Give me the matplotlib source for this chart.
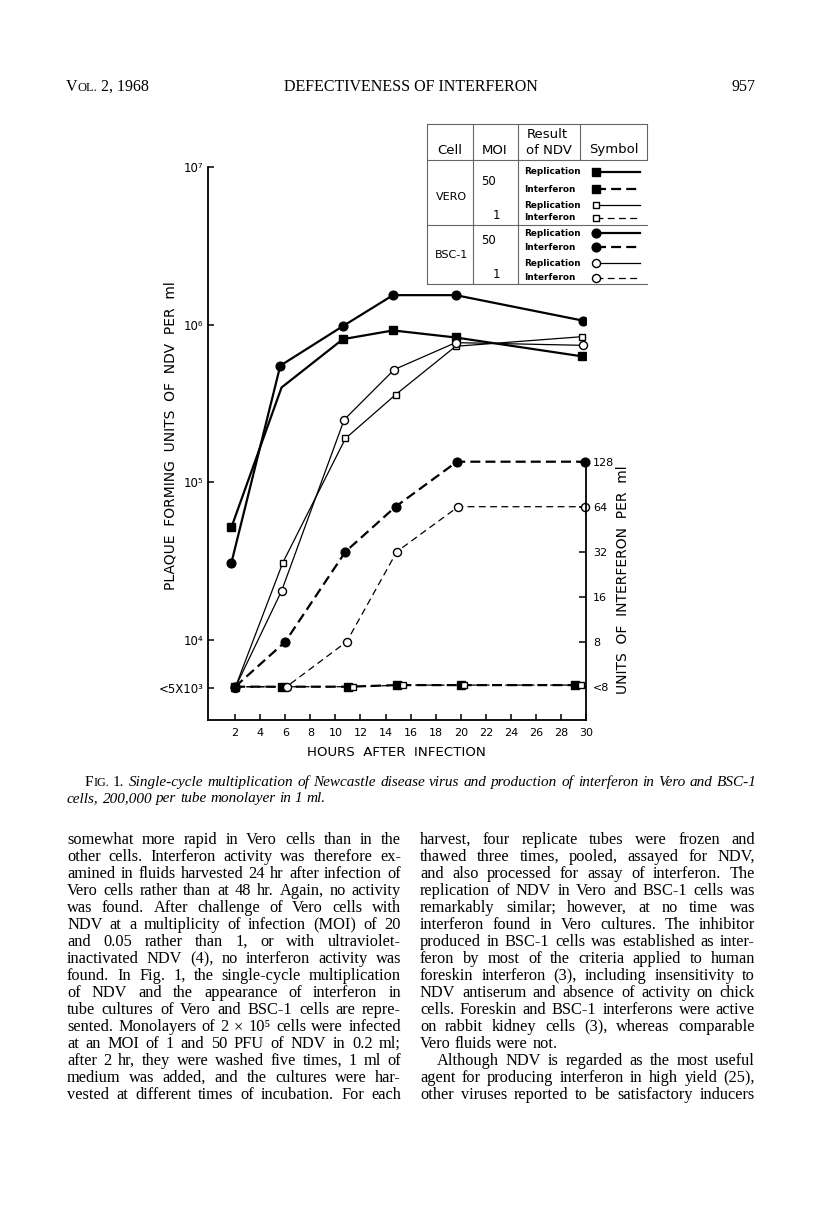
import matplotlib
matplotlib.use('Agg')
import matplotlib.pyplot as plt
from matplotlib.ticker import NullLocator

W, H = 816, 1205

# ---- values ----
hour_ticks = list(range(2, 31, 2))
pfu_ticks = [5e3, 1e4, 1e5, 1e6, 1e7]
pfu_labels = ['<5X10³', '10⁴', '10⁵', '10⁶', '10⁷']
ifn_ticks = [4, 8, 16, 32, 64, 128]
ifn_labels = ['<8', '8', '16', '32', '64', '128']

# NDV replication (PFU per ml, left axis)
vero50_rep_h = [1.7, 5.7, 10.6, 14.6, 19.6, 29.7]
vero50_rep = [5.2e4, 4.0e5, 8.1e5, 9.2e5, 8.3e5, 6.3e5]
bsc50_rep_h = [1.7, 5.6, 10.6, 14.6, 19.6, 29.8]
bsc50_rep = [3.1e4, 5.5e5, 9.8e5, 1.54e6, 1.54e6, 1.06e6]
vero1_rep_h = [2.0, 5.8, 10.8, 14.8, 19.6, 29.7]
vero1_rep = [5e3, 3.1e4, 1.9e5, 3.6e5, 7.3e5, 8.4e5]
bsc1_rep_h = [2.0, 5.7, 10.7, 14.7, 19.6, 29.8]
bsc1_rep = [5e3, 2.05e4, 2.5e5, 5.2e5, 7.7e5, 7.4e5]

# interferon (units per ml, right axis; 4 = "<8")
bsc50_ifn_h = [2.0, 6.0, 10.8, 14.8, 19.7, 29.9]
bsc50_ifn = [4, 8, 32, 64, 128, 128]
bsc1_ifn_h = [2.0, 6.1, 10.9, 14.9, 19.8, 29.9]
bsc1_ifn = [4, 4, 8, 32, 64, 64]
vero50_ifn_h = [2.0, 5.7, 11.0, 14.9, 20.0, 29.1]
vero50_ifn = [4, 4, 4, 4.1, 4.1, 4.1]
vero1_ifn_h = [2.0, 6.1, 11.4, 15.4, 20.3, 29.6]
vero1_ifn = [4, 4, 4, 4.1, 4.1, 4.1]

legend_cells = ['VERO', 'BSC-1']
legend_moi = ['50', '1']
legend_kinds = ['Replication', 'Interferon']

header_title = 'DEFECTIVENESS OF INTERFERON'
page_no = '957'
caption_1 = ('Single-cycle multiplication of Newcastle disease virus and '
             'production of interferon in Vero and BSC-1')
caption_2 = 'cells, 200,000 per tube monolayer in 1 ml.'

left_col = [
    "somewhat more rapid in Vero cells than in the",
    "other cells. Interferon activity was therefore ex-",
    "amined in fluids harvested 24 hr after infection of",
    "Vero cells rather than at 48 hr. Again, no activity",
    "was found. After challenge of Vero cells with",
    "NDV at a multiplicity of infection (MOI) of 20",
    "and 0.05 rather than 1, or with ultraviolet-",
    "inactivated NDV (4), no interferon activity was",
    "found. In Fig. 1, the single-cycle multiplication",
    "of NDV and the appearance of interferon in",
    "tube cultures of Vero and BSC-1 cells are repre-",
    "sented. Monolayers of 2 × 10⁵ cells were infected",
    "at an MOI of 1 and 50 PFU of NDV in 0.2 ml;",
    "after 2 hr, they were washed five times, 1 ml of",
    "medium was added, and the cultures were har-",
    "vested at different times of incubation. For each",
]
right_col = [
    "harvest, four replicate tubes were frozen and",
    "thawed three times, pooled, assayed for NDV,",
    "and also processed for assay of interferon. The",
    "replication of NDV in Vero and BSC-1 cells was",
    "remarkably similar; however, at no time was",
    "interferon found in Vero cultures. The inhibitor",
    "produced in BSC-1 cells was established as inter-",
    "feron by most of the criteria applied to human",
    "foreskin interferon (3), including insensitivity to",
    "NDV antiserum and absence of activity on chick",
    "cells. Foreskin and BSC-1 interferons were active",
    "on rabbit kidney cells (3), whereas comparable",
    "Vero fluids were not.",
    "Although NDV is regarded as the most useful",
    "agent for producing interferon in high yield (25),",
    "other viruses reported to be satisfactory inducers",
]


def style(cell, moi, kind):
    mk = 's' if cell == 'VERO' else 'o'
    big = moi == '50'
    if kind == 'Replication':
        ls = '-'
    else:
        ls = (0, (4.5, 2.3)) if big else (0, (5.5, 3.5))
    if mk == 's':
        ms = 5.2 if big else 4.8
    else:
        ms = 6.3 if big else 5.8
    return dict(marker=mk, mfc='black' if big else 'white', mec='black', mew=1.0,
                color='black', lw=1.6 if big else 0.9, ls=ls, ms=ms)


SANS = ['DejaVu Sans']
SERIF = ['Liberation Serif', 'DejaVu Serif']

fig = plt.figure(figsize=(W / 100, H / 100), dpi=100)
page = fig.add_axes([0, 0, 1, 1])
page.set_xlim(0, W)
page.set_ylim(H, 0)
page.axis('off')
r = fig.canvas.get_renderer()

# ---- chart ----
ax = fig.add_axes([208.5 / W, 1 - 720 / H, 377.5 / W, 553 / H])
ax.patch.set_visible(False)
ax.set_yscale('log')
ax.set_xlim(-0.13, 29.93)
ax.set_ylim(3118, 1e7)
ax.plot(bsc50_rep_h, bsc50_rep, **style('BSC-1', '50', 'Replication'))
ax.plot(vero50_rep_h, vero50_rep, markevery=[0, 2, 3, 4, 5], **style('VERO', '50', 'Replication'))
ax.plot(vero1_rep_h, vero1_rep, clip_on=False, **style('VERO', '1', 'Replication'))
ax.plot(bsc1_rep_h, bsc1_rep, clip_on=False, **style('BSC-1', '1', 'Replication'))
ax.set_xticks(hour_ticks)
ax.set_yticks(pfu_ticks)
ax.set_yticklabels(pfu_labels)
ax.yaxis.set_minor_locator(NullLocator())
ax.tick_params(axis='x', direction='in', length=4, width=1.1, labelsize=8, pad=6)
ax.tick_params(axis='y', direction='in', length=4, width=1.1, labelsize=8.5, pad=3.5)
for lab in ax.get_xticklabels() + ax.get_yticklabels():
    lab.set_family(SANS)
ax.spines['top'].set_visible(False)
ax.spines['right'].set_visible(False)
for s in ('left', 'bottom'):
    ax.spines[s].set_linewidth(1.3)

ax2 = ax.twinx()
ax2.patch.set_visible(False)
ax2.set_yscale('log', base=2)
ax2.set_ylim(2.395, 11985)
ax2.plot(vero50_ifn_h, vero50_ifn, clip_on=False, **style('VERO', '50', 'Interferon'))
ax2.plot(vero1_ifn_h, vero1_ifn, clip_on=False, **style('VERO', '1', 'Interferon'))
ax2.plot(bsc1_ifn_h, bsc1_ifn, clip_on=False, **style('BSC-1', '1', 'Interferon'))
ax2.plot(bsc50_ifn_h, bsc50_ifn, clip_on=False, **style('BSC-1', '50', 'Interferon'))
ax2.set_yticks(ifn_ticks)
ax2.set_yticklabels(ifn_labels)
ax2.yaxis.set_minor_locator(NullLocator())
ax2.tick_params(axis='y', direction='in', length=5, width=1.1, labelsize=8, pad=5)
for lab in ax2.get_yticklabels():
    lab.set_family(SANS)
for s in ('left', 'top', 'bottom'):
    ax2.spines[s].set_visible(False)
ax2.spines['right'].set_bounds(2.395, 128)
ax2.spines['right'].set_linewidth(1.3)

page.text(170, 436, 'PLAQUE  FORMING  UNITS  OF  NDV  PER  ml', rotation=90,
          ha='center', va='center', fontsize=10, family=SANS)
page.text(623, 580, 'UNITS  OF  INTERFERON  PER  ml', rotation=90,
          ha='center', va='center', fontsize=10, family=SANS)
page.text(396, 753, 'HOURS  AFTER  INFECTION', ha='center', va='center',
          fontsize=9.6, family=SANS)

# ---- symbol table ----
gl = dict(color='0.4', lw=0.8)
for y in (124, 160, 225, 284):
    page.plot([427, 647], [y, y], **gl)
for x in (427, 473, 518):
    page.plot([x, x], [124, 284], **gl)
for x in (580, 647):
    page.plot([x, x], [124, 160], **gl)
page.text(450, 150, 'Cell', ha='center', va='center', fontsize=9.5, family=SANS)
page.text(495, 150, 'MOI', ha='center', va='center', fontsize=9.5, family=SANS)
page.text(547, 134, 'Result', ha='center', va='center', fontsize=9.5, family=SANS)
page.text(549, 150, 'of NDV', ha='center', va='center', fontsize=9.5, family=SANS)
page.text(614, 150, 'Symbol', ha='center', va='center', fontsize=9.5, family=SANS)
row_y = [172, 189, 205, 218, 233, 247, 263, 278]
i = 0
for ci, cell in enumerate(legend_cells):
    page.text(451, (row_y[4 * ci + 1] + row_y[4 * ci + 2]) / 2 + 0.5, cell,
              ha='center', va='center', fontsize=8, family=SANS)
    for mi, moi in enumerate(legend_moi):
        page.text(489 if moi == '50' else 496,
                  (row_y[i] + row_y[i + 1]) / 2 + (1 if moi == '50' else 4),
                  moi, ha='center', va='center', fontsize=8.5, family=SANS)
        for kind in legend_kinds:
            y = row_y[i]
            page.text(524, y, kind, ha='left', va='center', fontsize=6.4,
                      fontweight='bold', family=SANS)
            page.plot([596, 640], [y, y], markevery=[0], **style(cell, moi, kind))
            i += 1


# ---- page text ----
def runs(items, x, y):
    for s, kw in items:
        t = page.text(x, y, s, va='baseline', **kw)
        x += t.get_window_extent(r).width
    return x


def put_line(txt, x0, x1, y, justify=True, **kw):
    words = txt.split(' ')
    arts = [page.text(0, y, w, va='baseline', **kw) for w in words]
    ws = [a.get_window_extent(r).width for a in arts]
    if justify and len(words) > 1:
        gap = (x1 - x0 - sum(ws)) / (len(words) - 1)
    else:
        gap = kw.get('fontsize', 10) * 100 / 72 * 0.25
    x = x0
    for a, w in zip(arts, ws):
        a.set_x(x)
        x += w + gap


hdr = dict(fontsize=11.5, family=SERIF)
x = runs([('V', hdr), ('OL.', dict(fontsize=9, family=SERIF))], 66, 91)
page.text(x + 4, 91, '2, 1968', va='baseline', **hdr)
page.text(411, 91, header_title, ha='center', va='baseline', **hdr)
page.text(756, 91, page_no, ha='right', va='baseline', **hdr)

cap = dict(fontsize=11, family=SERIF)
x = runs([('F', cap), ('IG.', dict(fontsize=8.7, family=SERIF))], 85, 786)
x = runs([('1.', cap)], x + 4, 786)
put_line(caption_1, x + 4, 757, 786, style='italic', **cap)
put_line(caption_2, 67, 757, 802, justify=False, style='italic', **cap)

body = dict(fontsize=11.8, family=SERIF)
for k, txt in enumerate(left_col):
    put_line(txt, 67, 401, 844 + 17 * k, **body)
for k, txt in enumerate(right_col):
    x0 = 437 if txt.startswith('Although') else 420
    put_line(txt, x0, 755, 844 + 17 * k, justify=not txt.endswith('not.'), **body)

fig.savefig('out.png', dpi=100)
